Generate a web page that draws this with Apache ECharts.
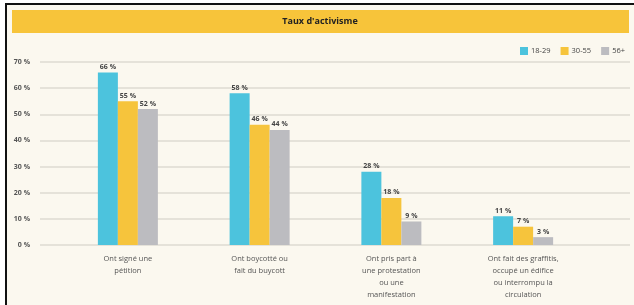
<!DOCTYPE html>
<html>
<head>
<meta charset="utf-8">
<style>
  html, body { margin: 0; padding: 0; background: #fff; }
  #chart { width: 634px; height: 305px; }
</style>
<script src="https://cdn.jsdelivr.net/npm/echarts@6/dist/echarts.min.js"></script>
</head>
<body>
<div id="chart"></div>
<script>
// données
const categories = [
  'Ont signé une\npétition',
  'Ont boycotté ou\nfait du buycott',
  'Ont pris part à\nune protestation\nou une\nmanifestation',
  'Ont fait des graffitis,\noccupé un édifice\nou interrompu la\ncirculation'
]
const groups = ['18-29', '30-55', '56+']
const age18_29 = [66, 58, 28, 11]
const age30_55 = [55, 46, 18, 7]
const age56plus = [52, 44, 9, 3]
const colors = ['#4cc3dd', '#f6c43c', '#bcbcc0']

const chart = echarts.init(document.getElementById('chart'))

function barSeries(name, data, i) {
  return {
    name,
    type: 'bar',
    xAxisIndex: 1,
    yAxisIndex: 1,
    data,
    barWidth: 20,
    barGap: '0%',
    itemStyle: { color: colors[i] },
    label: {
      show: true,
      position: 'top',
      distance: 2,
      formatter: p => p.value + ' %',
      fontSize: 7,
      fontWeight: 'bold',
      color: '#444',
      fontFamily: 'Open Sans'
    }
  }
}

chart.setOption({
  backgroundColor: '#fbf8ef',
  textStyle: { fontFamily: 'Open Sans' },
  graphic: [
    // cadre
    { type: 'rect', shape: { x: 0, y: 0, width: 634, height: 4 }, style: { fill: '#fff' }, z: 0 },
    { type: 'rect', shape: { x: 0, y: 0, width: 5, height: 305 }, style: { fill: '#fff' }, z: 0 },
    { type: 'rect', shape: { x: 5, y: 3, width: 640, height: 2 }, style: { fill: '#111' }, z: 1 },
    { type: 'rect', shape: { x: 5, y: 3, width: 2, height: 310 }, style: { fill: '#111' }, z: 1 },
    // bandeau du titre
    { type: 'rect', shape: { x: 12, y: 10, width: 617, height: 23 }, style: { fill: '#f7c43a' }, z: 1 },
    {
      type: 'text', x: 320, y: 21, z: 2,
      style: {
        text: "Taux d'activisme", fill: '#222', font: 'bold 9px "Open Sans"',
        align: 'center', verticalAlign: 'middle'
      }
    }
  ],
  legend: {
    data: groups,
    right: 4,
    top: 42,
    itemWidth: 8,
    itemHeight: 8,
    itemGap: 10,
    icon: 'rect',
    textStyle: { fontSize: 7.5, color: '#444', padding: [0, 0, 0, -2] }
  },
  grid: [
    { left: 40, right: 4, top: 62, bottom: 60 },
    { left: 62, right: 45, top: 62, bottom: 60 }
  ],
  xAxis: [
    { type: 'value', gridIndex: 0, show: false, min: 0, max: 1 },
    {
      type: 'category',
      gridIndex: 1,
      data: categories,
      axisLine: { show: false },
      axisTick: { show: false },
      axisLabel: { fontSize: 7.5, color: '#555', lineHeight: 12, margin: 8 }
    }
  ],
  yAxis: [
    {
      type: 'value',
      gridIndex: 0,
      min: 0,
      max: 70,
      interval: 10,
      axisLine: { show: false },
      axisTick: { show: false },
      axisLabel: { formatter: '{value} %', fontSize: 7, fontWeight: 'bold', color: '#555', margin: 10 },
      splitLine: { lineStyle: { color: '#dedbd2', width: 1.5 } }
    },
    {
      type: 'value',
      gridIndex: 1,
      min: 0,
      max: 70,
      interval: 10,
      show: false,
      splitLine: { show: false }
    }
  ],
  series: [
    barSeries(groups[0], age18_29, 0),
    barSeries(groups[1], age30_55, 1),
    barSeries(groups[2], age56plus, 2)
  ]
})
</script>
</body>
</html>
